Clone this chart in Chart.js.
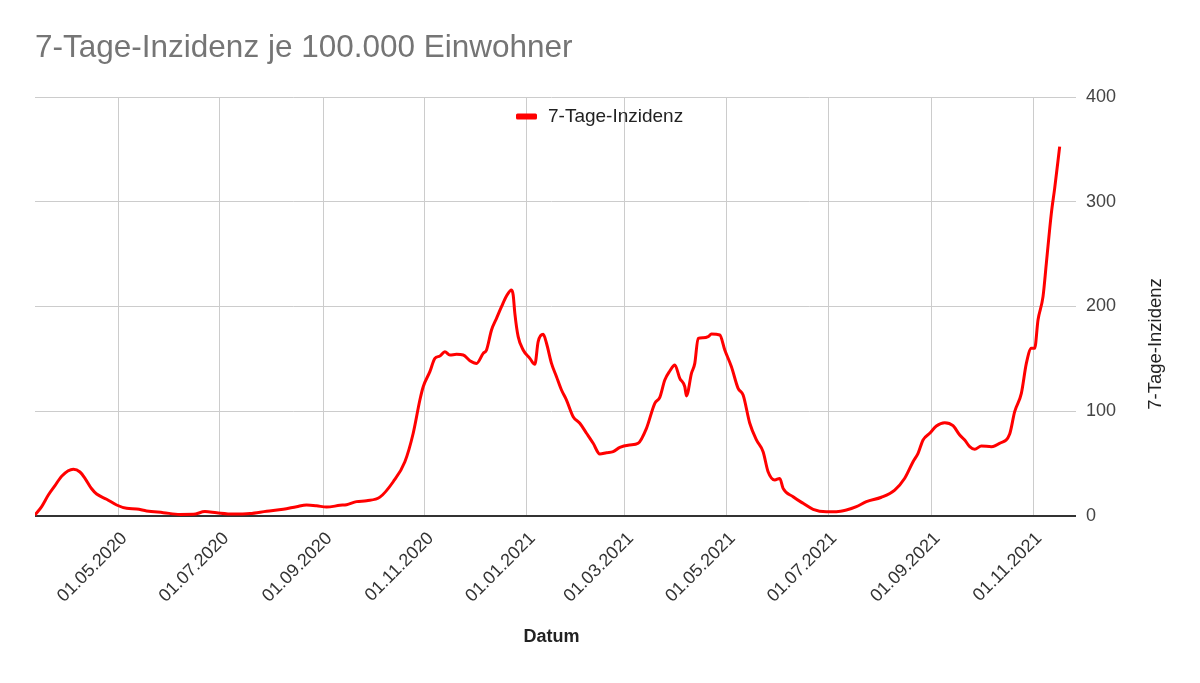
<!DOCTYPE html>
<html>
<head>
<meta charset="utf-8">
<title>7-Tage-Inzidenz</title>
<script src="https://cdn.jsdelivr.net/npm/chart.js@4"></script>
<style>
  html, body { margin: 0; padding: 0; background: #fff; }
</style>
</head>
<body>
<canvas id="chart" width="1200" height="683"></canvas>
<script>
const FONT = "Arial, 'Liberation Sans', sans-serif";

// ---- DATA ----
const dates = [
  "2020-03-12", "2020-03-16", "2020-03-20", "2020-03-24", "2020-03-28", "2020-04-04",
  "2020-04-08", "2020-04-11", "2020-04-15", "2020-04-18", "2020-04-24", "2020-04-30",
  "2020-05-06", "2020-05-12", "2020-05-18", "2020-05-28", "2020-06-07", "2020-06-15",
  "2020-06-22", "2020-06-29", "2020-07-09", "2020-07-19", "2020-07-29", "2020-08-08",
  "2020-08-16", "2020-08-22", "2020-08-28", "2020-09-03", "2020-09-11", "2020-09-15",
  "2020-09-21", "2020-09-27", "2020-10-05", "2020-10-13", "2020-10-20", "2020-10-25",
  "2020-10-29", "2020-10-31", "2020-11-04", "2020-11-07", "2020-11-10", "2020-11-13",
  "2020-11-16", "2020-11-20", "2020-11-24", "2020-11-28", "2020-12-02", "2020-12-06",
  "2020-12-08", "2020-12-11", "2020-12-14", "2020-12-17", "2020-12-20", "2020-12-23",
  "2020-12-24", "2020-12-25", "2020-12-27", "2020-12-30", "2021-01-03", "2021-01-06",
  "2021-01-08", "2021-01-11", "2021-01-13", "2021-01-16", "2021-01-19", "2021-01-22",
  "2021-01-25", "2021-01-29", "2021-02-02", "2021-02-06", "2021-02-10", "2021-02-14",
  "2021-02-18", "2021-02-22", "2021-02-26", "2021-03-04", "2021-03-09", "2021-03-14",
  "2021-03-19", "2021-03-22", "2021-03-25", "2021-03-28", "2021-03-31", "2021-04-03",
  "2021-04-06", "2021-04-07", "2021-04-10", "2021-04-12", "2021-04-14", "2021-04-17",
  "2021-04-20", "2021-04-22", "2021-04-27", "2021-04-30", "2021-05-04", "2021-05-08",
  "2021-05-11", "2021-05-15", "2021-05-19", "2021-05-23", "2021-05-26", "2021-05-30",
  "2021-06-02", "2021-06-04", "2021-06-10", "2021-06-16", "2021-06-22", "2021-06-30",
  "2021-07-06", "2021-07-12", "2021-07-18", "2021-07-24", "2021-08-02", "2021-08-10",
  "2021-08-16", "2021-08-21", "2021-08-24", "2021-08-27", "2021-08-31", "2021-09-04",
  "2021-09-09", "2021-09-14", "2021-09-18", "2021-09-21", "2021-09-24", "2021-09-27",
  "2021-10-01", "2021-10-07", "2021-10-12", "2021-10-18", "2021-10-21", "2021-10-25",
  "2021-10-28", "2021-10-31", "2021-11-02", "2021-11-04", "2021-11-07", "2021-11-09",
  "2021-11-12", "2021-11-14", "2021-11-17"
];

const incidence = [
  1, 9, 20, 29, 38, 44.6,
  42, 36, 26, 21, 16, 10.5,
  7.3, 6.7, 4.8, 3.2, 1.5, 1.6,
  4.2, 3, 1.8, 2.3, 4.5, 6.4,
  8.9, 10.5, 9.8, 8.5, 10.2, 10.8,
  13.7, 14.6, 18, 32.7, 51.8, 79,
  110.7, 123.4, 137.8, 150.5, 152.7, 156.9,
  153.7, 154.3, 153.7, 148.3, 145.7, 155.3,
  158.5, 177.6, 188.7, 199.8, 210, 215.7,
  211, 193.5, 171.2, 158.5, 150.5, 144.8,
  166.4, 173.4, 164.9, 145.7, 133, 120.3,
  110.7, 94.8, 88.5, 79, 69.4, 59.2,
  60.4, 61.4, 65.6, 67.8, 69.4, 83.7,
  107.6, 113.3, 129.8, 138.4, 144.2, 131.5,
  123.4, 114.6, 136.2, 145.7, 169.6, 170.2,
  171.2, 173.7, 172.8, 158.5, 142.5, 121.9,
  115.5, 88.5, 72.6, 61.4, 42.3, 34.4,
  35.9, 26.4, 18.4, 12.1, 6.4, 4.1,
  4.1, 5.7, 8.9, 13.7, 17.9, 24.8,
  36, 51.8, 59.8, 72.6, 79, 85.9,
  89.1, 86.2, 77.3, 72.6, 66.2, 63.7,
  66.8, 66.2, 69.4, 78.3, 99.6, 117.1,
  145.7, 160.1, 160.1, 187.1, 209.4, 241.2,
  288.9, 312.8, 352.6
];

const tickLabels = [
  "01.05.2020", "01.07.2020", "01.09.2020", "01.11.2020", "01.01.2021",
  "01.03.2021", "01.05.2021", "01.07.2021", "01.09.2021", "01.11.2021"
];

const yTicks = [0, 100, 200, 300, 400];
const xStart = "2020-03-12";
const xEnd = "2021-11-22";

// ---- HELPERS ----
function dayOf(iso) {
  const [y, m, d] = iso.split("-").map(Number);
  return Date.UTC(y, m - 1, d) / 864e5;
}
function dayOfLabel(lbl) {
  const [d, m, y] = lbl.split(".");
  return dayOf(`${y}-${m}-${d}`);
}
const tickDays = tickLabels.map(dayOfLabel);
const points = dates.map((d, i) => ({ x: dayOf(d), y: incidence[i] }));

// ---- EXTRA DRAWING (legend inside plot, right axis title reading upwards) ----
const overlay = {
  id: "overlay",
  afterDraw(chart) {
    const ctx = chart.ctx;
    const ds = chart.data.datasets[0];
    ctx.save();
    // legend
    ctx.fillStyle = ds.borderColor;
    ctx.beginPath();
    ctx.roundRect(516, 113.5, 21, 6, 1.5);
    ctx.fill();
    ctx.fillStyle = "#222";
    ctx.font = `19px ${FONT}`;
    ctx.textBaseline = "middle";
    ctx.textAlign = "left";
    ctx.fillText(ds.label, 548, 117);
    // y axis title
    ctx.font = `18.5px ${FONT}`;
    ctx.translate(1156, 344);
    ctx.rotate(-Math.PI / 2);
    ctx.textAlign = "center";
    ctx.fillText("7-Tage-Inzidenz", 0, 0);
    ctx.restore();
  }
};

// ---- CHART ----
const chart = new Chart(document.getElementById("chart"), {
  type: "line",
  data: {
    datasets: [{
      label: "7-Tage-Inzidenz",
      data: points,
      borderColor: "#ff0000",
      borderWidth: 3,
      pointRadius: 0,
      cubicInterpolationMode: "monotone",
      fill: false
    }]
  },
  options: {
    responsive: false,
    animation: false,
    layout: { padding: { left: 35, right: 72, top: 0, bottom: 0 } },
    plugins: {
      legend: { display: false },
      tooltip: { enabled: false },
      title: {
        display: true,
        text: "7-Tage-Inzidenz je 100.000 Einwohner",
        align: "start",
        color: "#757575",
        font: { family: FONT, size: 31.5, weight: "normal", lineHeight: 1.2 },
        padding: { top: 29, bottom: 30.2 }
      }
    },
    scales: {
      x: {
        type: "linear",
        min: dayOf(xStart),
        max: dayOf(xEnd),
        afterFit: (s) => { s.height = 167; },
        afterBuildTicks: (s) => { s.ticks = tickDays.map(v => ({ value: v })); },
        border: { display: false },
        grid: { color: "#cccccc", lineWidth: 1, drawTicks: false },
        ticks: {
          autoSkip: false,
          maxRotation: 45,
          minRotation: 45,
          padding: 12,
          labelOffset: 6,
          color: "#333",
          font: { family: FONT, size: 18 },
          callback: (v) => {
            const i = tickDays.indexOf(v);
            return i >= 0 ? tickLabels[i] : "";
          }
        },
        title: {
          display: true,
          text: "Datum",
          color: "#222",
          font: { family: FONT, size: 18, weight: "bold", lineHeight: 1.2 },
          padding: { top: 0, bottom: 35 }
        }
      },
      y: {
        position: "right",
        min: 0,
        max: 400,
        afterFit: (s) => { s.width = 60; },
        afterBuildTicks: (s) => { s.ticks = yTicks.map(v => ({ value: v })); },
        border: { display: false },
        grid: {
          color: (c) => c.tick && c.tick.value === 0 ? "#333333" : "#cccccc",
          lineWidth: (c) => c.tick && c.tick.value === 0 ? 2 : 1,
          tickLength: 8
        },
        ticks: {
          padding: 10,
          color: "#444",
          font: { family: FONT, size: 18 }
        }
      }
    }
  },
  plugins: [overlay]
});
</script>
</body>
</html>
